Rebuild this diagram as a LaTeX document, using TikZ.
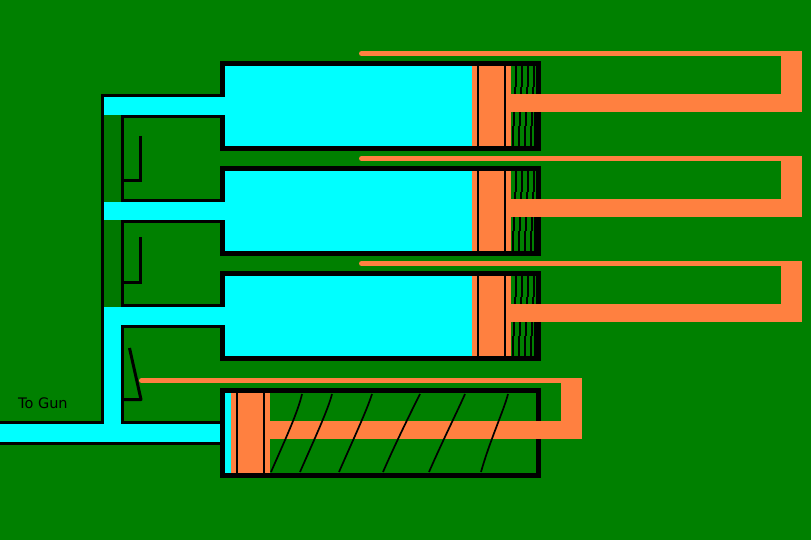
\documentclass[tikz,border=0pt]{standalone}
\usepackage{fontspec}
\setmainfont{DejaVu Sans}
\definecolor{bggreen}{HTML}{008000}
\definecolor{stripgreen}{HTML}{007800}
\definecolor{fluid}{HTML}{00FFFF}
\definecolor{rod}{HTML}{FF8040}
\tikzset{
  wall/.style={fill=black},
  oil/.style={fill=fluid},
  steel/.style={fill=rod},
  coil/.style={draw=black,line width=1.7pt},
  valve/.style={draw=black,line width=3pt},
  thinbar/.style={draw=rod,line width=5pt,line cap=round},
}
\newcommand{\boxfill}[5]{\fill[#1] (#2,#3) rectangle (#4,#5);}
\begin{document}
\begin{tikzpicture}[x=1pt,y=-1pt]
\useasboundingbox (0,0) rectangle (811,540);
\fill[bggreen] (0,0) rectangle (811,540);
% darker strip of the manifold
\boxfill{stripgreen}{104}{115}{121}{202}
\boxfill{stripgreen}{104}{220}{121}{307}
% three loaded cylinders
\foreach \dy in {0,105,210}{
  \begin{scope}[yshift=-\dy pt]
    \boxfill{oil}{225}{66}{472}{146}
    \boxfill{steel}{472}{66}{511}{146}
    \boxfill{wall}{477}{66}{479}{146}
    \boxfill{wall}{504}{66}{506}{146}
    % tight coil spring, stepped
    \foreach \k in {0,1,2,3}{
      \fill[black] ({515+6*\k},66) rectangle ({517+6*\k},87);
      \fill[black] ({514+6*\k},87) rectangle ({516+6*\k},94);
      \fill[black] ({513.3+6*\k},112) rectangle ({515.3+6*\k},126);
      \fill[black] ({511.7+6*\k},126) rectangle ({513.7+6*\k},146);
    }
    \boxfill{wall}{534}{112}{536}{146}
    % cylinder walls
    \boxfill{wall}{220}{61}{541}{66}
    \boxfill{wall}{220}{146}{541}{151}
    \boxfill{wall}{536}{61}{541}{151}
    \boxfill{wall}{220}{61}{225}{97}
    \boxfill{wall}{220}{115}{225}{151}
    % inlet
    \boxfill{oil}{104}{97}{225}{115}
    \boxfill{wall}{121}{94}{220}{97}
    \boxfill{wall}{121}{115}{220}{118}
    % rod and return bar
    \boxfill{steel}{511}{94}{802}{112}
    \boxfill{steel}{781}{51}{802}{112}
    \draw[thinbar] (361.5,53.5) -- (790,53.5);
  \end{scope}
}
\boxfill{wall}{101}{94}{121}{97}
% manifold
\boxfill{oil}{104}{307}{121}{424}
\boxfill{oil}{0}{424}{220}{442}
\boxfill{wall}{101}{94}{104}{424}
\boxfill{wall}{121}{115}{124}{202}
\boxfill{wall}{121}{220}{124}{307}
\boxfill{wall}{121}{325}{124}{424}
\boxfill{wall}{0}{421}{104}{424}
\boxfill{wall}{121}{421}{220}{424}
\boxfill{wall}{0}{442}{220}{445}
% valves
\draw[valve] (140.5,136) -- (140.5,182);
\draw[valve] (124,180.5) -- (140.5,180.5);
\draw[valve] (140.5,237) -- (140.5,284);
\draw[valve] (124,282.5) -- (140.5,282.5);
\draw[valve,line join=round] (129.5,348) -- (141,399.5) -- (124,399.5);
% fourth cylinder
\boxfill{oil}{225}{393}{231}{473}
\boxfill{steel}{231}{393}{270}{473}
\boxfill{wall}{236}{393}{238}{473}
\boxfill{wall}{263}{393}{265}{473}
\boxfill{wall}{220}{388}{541}{393}
\boxfill{wall}{220}{473}{541}{478}
\boxfill{wall}{220}{388}{225}{478}
\boxfill{wall}{536}{388}{541}{478}
\boxfill{steel}{270}{421}{582}{439}
\boxfill{steel}{561}{378}{582}{439}
\draw[thinbar] (141.5,380.5) -- (570,380.5);
% open coil spring
\draw[coil] (271,472) .. controls (285,440) and (298,412) .. (302,394);
\draw[coil] (300,472) .. controls (314,440) and (328,410) .. (332,394);
\draw[coil] (339,472) .. controls (353,440) and (367,410) .. (372,394);
\draw[coil] (383,472) .. controls (397,440) and (413,408) .. (420,394);
\draw[coil] (429,472) .. controls (443,440) and (458,410) .. (465,394);
\draw[coil] (481,472) .. controls (490,440) and (504,410) .. (508,394);
\node[anchor=base west,inner sep=0pt,font=\fontsize{14.5}{14.5}\selectfont] (gunlabel) at (18,408) {To Gun};
\end{tikzpicture}
\end{document}
